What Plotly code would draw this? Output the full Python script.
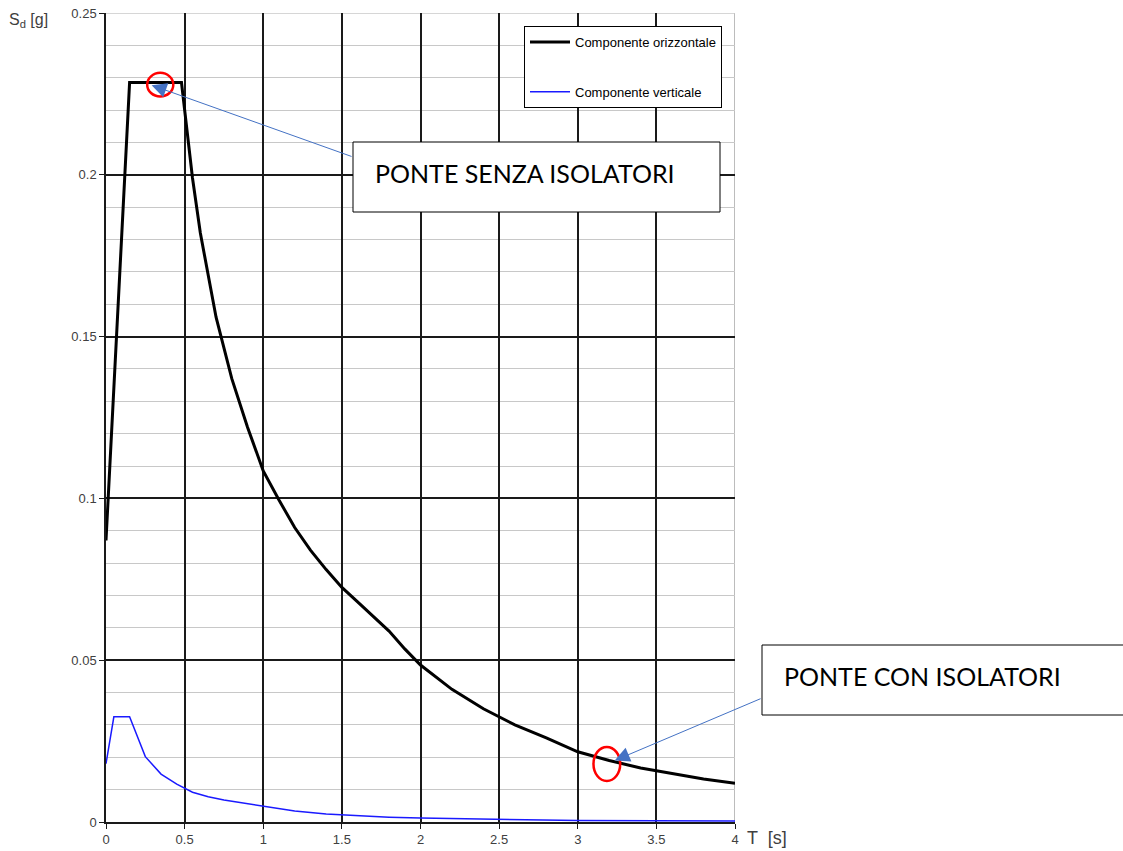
import plotly.graph_objects as go

# Horizontal component (black)
T_h = [0, 0.15, 0.48, 0.55, 0.6, 0.7, 0.8, 0.9, 1.0, 1.1, 1.2, 1.3, 1.4, 1.5, 1.6, 1.7, 1.8,
       1.9, 2.0, 2.2, 2.4, 2.6, 2.8, 3.0, 3.2, 3.4, 3.6, 3.8, 4.0]
S_h = [0.087, 0.2285, 0.2285, 0.199, 0.182, 0.156, 0.137, 0.122, 0.1085, 0.0995, 0.091, 0.084,
       0.078, 0.0725, 0.068, 0.0635, 0.059, 0.0535, 0.0485, 0.041, 0.035, 0.030, 0.026, 0.0217,
       0.019, 0.0167, 0.0150, 0.0133, 0.0120]

# Vertical component (blue)
T_v = [0, 0.05, 0.15, 0.25, 0.35, 0.45, 0.55, 0.65, 0.75, 0.85, 1.0, 1.2, 1.4, 1.6, 1.8, 2.0,
       2.5, 3.0, 3.5, 4.0]
S_v = [0.018, 0.0325, 0.0325, 0.0202, 0.0148, 0.0117, 0.0092, 0.0078, 0.0068, 0.006, 0.0048,
       0.0034, 0.0025, 0.0019, 0.0015, 0.0012, 0.0008, 0.0005, 0.0004, 0.0003]

x_ticks = [0, 0.5, 1, 1.5, 2, 2.5, 3, 3.5, 4]
x_labels = ["0", "0.5", "1", "1.5", "2", "2.5", "3", "3.5", "4"]
y_ticks = [0, 0.05, 0.1, 0.15, 0.2, 0.25]
y_labels = ["0", "0.05", "0.1", "0.15", "0.2", "0.25"]

def px(xp):
    return (xp - 106) / 629

def py(yp):
    return (822 - yp) / 809

fig = go.Figure()
fig.add_trace(go.Scatter(x=T_h, y=S_h, mode="lines", name="Componente orizzontale",
                         line=dict(color="black", width=3), legendgroup="a"))
fig.add_trace(go.Scatter(x=T_v, y=S_v, mode="lines", name="Componente verticale",
                         line=dict(color="#1a1aff", width=1.5), legendgroup="b"))

tickfont = dict(family="Liberation Sans, Arial", size=13, color="#404040")
fig.update_xaxes(range=[0, 4], tickvals=x_ticks, ticktext=x_labels, showgrid=True,
                 gridcolor="#1a1a1a", gridwidth=1.5, showline=True, linecolor="#1a1a1a",
                 linewidth=1.5, ticks="outside", ticklen=5, tickcolor="#1a1a1a",
                 tickfont=tickfont, zeroline=False)
fig.update_yaxes(range=[0, 0.25], tickvals=y_ticks, ticktext=y_labels, showgrid=True,
                 gridcolor="#1a1a1a", gridwidth=1.5, showline=True, linecolor="#1a1a1a",
                 linewidth=1.5, ticks="outside", ticklen=5, tickcolor="#1a1a1a",
                 tickfont=tickfont, zeroline=False,
                 minor=dict(dtick=0.01, showgrid=True, gridcolor="#c8c8c8", gridwidth=1))

shapes = [
    # right and top borders (gray)
    dict(type="line", xref="x", yref="y", x0=4, x1=4, y0=0, y1=0.25,
         line=dict(color="#a6a6a6", width=1.5), layer="below"),
    dict(type="line", xref="x", yref="y", x0=0, x1=4, y0=0.25, y1=0.25,
         line=dict(color="#c8c8c8", width=1.5), layer="below"),
    # red ellipses
    dict(type="circle", xref="x", yref="y", x0=0.262, x1=0.428, y0=0.2242, y1=0.2315,
         line=dict(color="#ff0000", width=2.5)),
    dict(type="circle", xref="x", yref="y", x0=3.10, x1=3.27, y0=0.0127, y1=0.0232,
         line=dict(color="#ff0000", width=2.5)),
    # text boxes
    dict(type="rect", xref="paper", yref="paper", x0=px(353), x1=px(720), y0=py(212), y1=py(142),
         line=dict(color="black", width=1), fillcolor="white", layer="above"),
    dict(type="rect", xref="paper", yref="paper", x0=px(762), x1=px(1135), y0=py(715), y1=py(645),
         line=dict(color="black", width=1), fillcolor="white", layer="above"),
]

annfont = dict(family="Lato, Carlito, Calibri", size=25, color="black")
annotations = [
    dict(x=0.29, y=0.2277, xref="x", yref="y", ax=1.571, ay=0.2055, axref="x", ayref="y",
         showarrow=True, arrowhead=2, arrowsize=3, arrowwidth=1, arrowcolor="#4472c4",
         text=""),
    dict(x=3.235, y=0.0190, xref="x", yref="y", ax=4.172, ay=0.0383, axref="x", ayref="y",
         showarrow=True, arrowhead=2, arrowsize=3, arrowwidth=1, arrowcolor="#4472c4",
         text=""),
    dict(x=px(373), y=py(173), xref="paper", yref="paper",
         xanchor="left", yanchor="middle", showarrow=False, text="PONTE SENZA ISOLATORI",
         font=annfont),
    dict(x=px(782), y=py(676), xref="paper", yref="paper",
         xanchor="left", yanchor="middle", showarrow=False, text="PONTE CON ISOLATORI",
         font=annfont),
    dict(x=px(7), y=py(20), xref="paper", yref="paper", xanchor="left",
         yanchor="middle", showarrow=False, text="S<sub>d</sub> [g]",
         font=dict(family="Liberation Sans, Arial", size=16, color="#404040")),
    dict(x=px(745), y=py(838), xref="paper", yref="paper", xanchor="left",
         yanchor="middle", showarrow=False, text="T  [s]",
         font=dict(family="Liberation Sans, Arial", size=18, color="#404040")),
]

fig.update_layout(
    width=1123, height=851,
    margin=dict(l=106, r=388, t=13, b=29, autoexpand=False),
    paper_bgcolor="white", plot_bgcolor="white",
    shapes=shapes, annotations=annotations,
    showlegend=True,
    legend=dict(x=px(524), y=py(26), xanchor="left", yanchor="top",
                bgcolor="white", bordercolor="black", borderwidth=1,
                font=dict(family="Liberation Sans, Arial", size=13, color="black"),
                itemwidth=40, tracegroupgap=30, traceorder="grouped"),
)

fig.write_html("out.html", config={"displayModeBar": False},
               post_script="document.body.style.margin='0px';document.body.style.overflow='hidden';")
